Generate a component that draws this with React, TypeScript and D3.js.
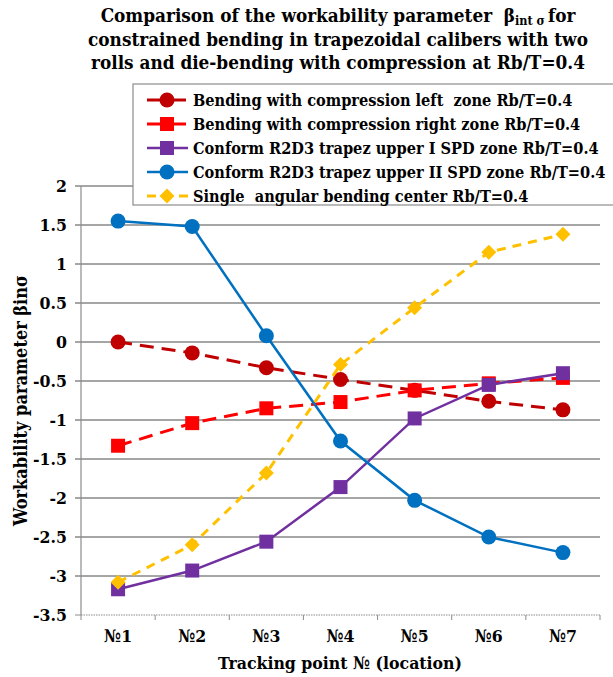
import React from "react";
import * as d3 from "d3";

const categories = ["№1", "№2", "№3", "№4", "№5", "№6", "№7"];
const leftZone = [0, -0.14, -0.33, -0.48, -0.62, -0.76, -0.87];
const rightZone = [-1.33, -1.04, -0.85, -0.77, -0.62, -0.53, -0.46];
const conformI = [-3.17, -2.93, -2.56, -1.86, -0.98, -0.55, -0.4];
const conformII = [1.55, 1.48, 0.08, -1.27, -2.03, -2.5, -2.7];
const single = [-3.08, -2.6, -1.68, -0.29, 0.44, 1.15, 1.38];
const yTicks = [2, 1.5, 1, 0.5, 0, -0.5, -1, -1.5, -2, -2.5, -3, -3.5];

const seriesNames = [
  "Bending with compression left  zone Rb/T=0.4",
  "Bending with compression right zone Rb/T=0.4",
  "Conform R2D3 trapez upper I SPD zone Rb/T=0.4",
  "Conform R2D3 trapez upper II SPD zone Rb/T=0.4",
  "Single  angular bending center Rb/T=0.4",
];

const series = [
  { name: seriesNames[0], values: leftZone, color: "#C00000", dash: "14,8", marker: "circle", width: 3 },
  { name: seriesNames[1], values: rightZone, color: "#FF0000", dash: "14,8", marker: "square", width: 3 },
  { name: seriesNames[2], values: conformI, color: "#7030A0", dash: null, marker: "square", width: 2.5 },
  { name: seriesNames[3], values: conformII, color: "#0070C0", dash: null, marker: "circle", width: 2.5 },
  { name: seriesNames[4], values: single, color: "#FFC000", dash: "9,7", marker: "diamond", width: 3 },
];

const FONT = "'DejaVu Serif Condensed', 'DejaVu Serif', serif";

function Marker({ type, x, y, color }: { type: string; x: number; y: number; color: string }) {
  if (type === "circle") return <circle cx={x} cy={y} r={7.5} fill={color} />;
  if (type === "square") return <rect x={x - 7} y={y - 7} width={14} height={14} fill={color} />;
  const s = 7.5;
  return <path d={`M${x},${y - s}L${x + s},${y}L${x},${y + s}L${x - s},${y}Z`} fill={color} />;
}

export default function App() {
  const left = 81, right = 600, top = 186, bottom = 615;
  const x = d3.scaleBand<string>().domain(categories).range([left, right]);
  const cx = (c: string) => (x(c) as number) + x.bandwidth() / 2;
  const y = d3.scaleLinear().domain([-3.5, 2]).range([bottom, top]);
  const line = d3.line<number>().x((_, i) => cx(categories[i])).y((v) => y(v));

  const boundaries = categories.map((c) => x(c) as number).concat([right]);

  return (
    <svg width={613} height={677} style={{ position: "absolute", left: 0, top: 0, background: "#fff" }}>
      <rect width={613} height={677} fill="#fff" />
      {/* title */}
      <g fontFamily={FONT} fontWeight="bold" fontSize={18.8} textAnchor="middle" fill="#000">
        <text x={338} y={22} style={{ whiteSpace: "pre" }}>
          Comparison of the workability parameter  β
          <tspan fontSize={12.5} dy={3}>int σ</tspan>
          <tspan dx={3} dy={-3}>for</tspan>
        </text>
        <text x={338} y={46}>constrained bending in trapezoidal calibers with two</text>
        <text x={338} y={69}>rolls and die-bending with compression at Rb/T=0.4</text>
      </g>
      {/* gridlines */}
      {yTicks.map((t) => (
        <line key={t} x1={left - 6} x2={right} y1={y(t)} y2={y(t)} stroke={t === -3.5 ? "none" : "#4d4d4d"} strokeWidth={1} />
      ))}
      {/* y axis */}
      <line x1={left} x2={left} y1={top} y2={bottom} stroke="#8c8c8c" strokeWidth={1.2} />
      <line x1={left - 6} x2={left} y1={bottom} y2={bottom} stroke="#8c8c8c" />
      {/* x axis */}
      <line x1={left} x2={right} y1={bottom} y2={bottom} stroke="#8c8c8c" strokeWidth={1.2} strokeDasharray="1.5,1" />
      {boundaries.map((b, i) => (
        <line key={i} x1={b} x2={b} y1={bottom} y2={bottom + 5} stroke="#8c8c8c" />
      ))}
      {/* y tick labels */}
      <g fontFamily={FONT} fontWeight="bold" fontSize={17.5} textAnchor="end" fill="#000">
        {yTicks.map((t) => (
          <text key={t} x={67} y={y(t) + 6}>{String(t)}</text>
        ))}
      </g>
      {/* x tick labels */}
      <g fontFamily={FONT} fontWeight="bold" fontSize={17.5} textAnchor="middle" fill="#000">
        {categories.map((c) => (
          <text key={c} x={cx(c)} y={642}>{c}</text>
        ))}
      </g>
      {/* axis titles */}
      <text x={340} y={669} fontFamily={FONT} fontWeight="bold" fontSize={17.5} textAnchor="middle">
        Tracking point № (location)
      </text>
      <text
        transform={`translate(27,${(top + bottom) / 2}) rotate(-90)`}
        fontFamily={FONT}
        fontWeight="bold"
        fontSize={18}
        textAnchor="middle"
      >
        Workability parameter βinσ
      </text>
      {/* series */}
      {series.map((s) => (
        <g key={s.name}>
          <path
            d={line(s.values) as string}
            fill="none"
            stroke={s.color}
            strokeWidth={s.width}
            strokeDasharray={s.dash ?? undefined}
          />
          {s.values.map((v, i) => (
            <Marker key={i} type={s.marker} x={cx(categories[i])} y={y(v)} color={s.color} />
          ))}
        </g>
      ))}
      {/* legend */}
      <g>
        <rect x={133} y={84} width={490} height={121} fill="#fff" stroke="#8c8c8c" strokeWidth={1.2} />
        {series.map((s, i) => {
          const ly = 100 + i * 24;
          return (
            <g key={s.name}>
              <line
                x1={147}
                x2={188}
                y1={ly}
                y2={ly}
                stroke={s.color}
                strokeWidth={s.width}
                strokeDasharray={s.dash ? (i === 4 ? "9,7" : "16,7") : undefined}
              />
              <Marker type={s.marker} x={167} y={ly} color={s.color} />
              <text
                x={193}
                y={ly + 5.5}
                fontFamily={FONT}
                fontWeight="bold"
                fontSize={16.2}
                style={{ whiteSpace: "pre" }}
              >
                {s.name}
              </text>
            </g>
          );
        })}
      </g>
    </svg>
  );
}
